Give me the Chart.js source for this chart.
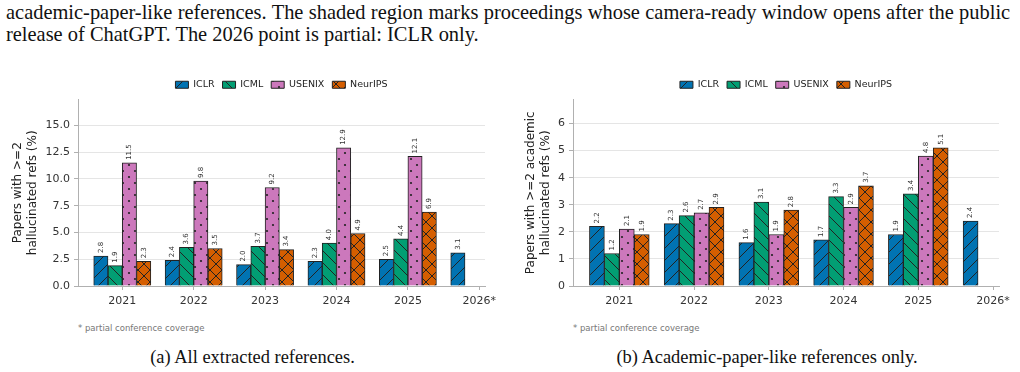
<!DOCTYPE html>
<html>
<head>
<meta charset="utf-8">
<script src="https://cdn.jsdelivr.net/npm/chart.js@4.4.0/dist/chart.umd.min.js"></script>
<style>
html, body { margin: 0; padding: 0; overflow: hidden; background: #fff; }
body { width: 1020px; height: 372px; position: relative; font-family: "DejaVu Sans", sans-serif; }
.serif { position: absolute; font-family: "Liberation Serif", serif; color: #111; white-space: nowrap; transform: scaleX(0.95); transform-origin: 0 0; }
#line1 { left: 6px; top: 1px; width: 1057px; font-size: 21.5px; line-height: 22px; text-align: justify; text-align-last: justify; }
#line2 { left: 6px; top: 23px; font-size: 21.5px; line-height: 22px; }
.cap { top: 346px; font-size: 19.4px; line-height: 22px; text-align: center; transform-origin: 50% 0; }
.foot { position: absolute; top: 323px; font-size: 8.5px; color: #777; }
.box { position: absolute; }
</style>
</head>
<body>
<div class="serif" id="line1">academic-paper-like references. The shaded region marks proceedings whose camera-ready window opens after the public</div>
<div class="serif" id="line2">release of ChatGPT. The 2026 point is partial: ICLR only.</div>

<div class="box" style="left:0px; top:72px;"><canvas id="chartAll" width="505" height="240"></canvas></div>
<div class="box" style="left:505px; top:72px;"><canvas id="chartAcad" width="515" height="240"></canvas></div>

<div class="foot" style="left:78px;">* partial conference coverage</div>
<div class="foot" style="left:573px;">* partial conference coverage</div>
<div class="serif cap" style="left:0px; width:505px;">(a) All extracted references.</div>
<div class="serif cap" style="left:510px; width:514px;">(b) Academic-paper-like references only.</div>

<script>
// categories
const years = ['2021', '2022', '2023', '2024', '2025', '2026*'];
const venues = ['ICLR', 'ICML', 'USENIX', 'NeurIPS'];

// (a) all extracted references, % of papers with >=2 hallucinated refs
const allIclr    = [2.8, 2.4, 2.0, 2.3, 2.5, 3.1];
const allIcml    = [1.9, 3.6, 3.7, 4.0, 4.4, null];
const allUsenix  = [11.5, 9.8, 9.2, 12.9, 12.1, null];
const allNeurips = [2.3, 3.5, 3.4, 4.9, 6.9, null];

// (b) academic-paper-like references only
const acadIclr    = [2.2, 2.3, 1.6, 1.7, 1.9, 2.4];
const acadIcml    = [1.2, 2.6, 3.1, 3.3, 3.4, null];
const acadUsenix  = [2.1, 2.7, 1.9, 2.9, 4.8, null];
const acadNeurips = [1.9, 2.9, 2.8, 3.7, 5.1, null];

// y tick labels
const allTicks = [0, 2.5, 5, 7.5, 10, 12.5, 15];
const acadTicks = [0, 1, 2, 3, 4, 5, 6];

const colors = ['#0173b2', '#029e73', '#cc78bc', '#d55e00'];
const hatches = ['/', '\\', '.', 'x'];
const offsets = [-0.3, -0.1, 0.1, 0.3];
const edge = '#222';
const axisGray = '#b0b0b0';

function makePattern(color, kind) {
    const s = 12;
    const c = document.createElement('canvas');
    c.width = s;
    c.height = s;
    const g = c.getContext('2d');
    g.fillStyle = color;
    g.fillRect(0, 0, s, s);
    g.strokeStyle = edge;
    g.fillStyle = edge;
    g.lineWidth = 1;
    g.beginPath();
    if (kind === '/' || kind === 'x') {
        g.moveTo(-1, s + 1); g.lineTo(s + 1, -1);
        g.moveTo(-2, 2); g.lineTo(2, -2);
        g.moveTo(s - 2, s + 2); g.lineTo(s + 2, s - 2);
    }
    if (kind === '\\' || kind === 'x') {
        g.moveTo(-1, -1); g.lineTo(s + 1, s + 1);
        g.moveTo(s - 2, -2); g.lineTo(s + 2, 2);
        g.moveTo(-2, s - 2); g.lineTo(2, s + 2);
    }
    g.stroke();
    if (kind === '.') {
        [[s / 4, s / 4], [3 * s / 4, 3 * s / 4]].forEach(p => {
            g.beginPath();
            g.arc(p[0], p[1], 1.1, 0, Math.PI * 2);
            g.fill();
        });
    }
    return g.createPattern(c, 'repeat');
}

// rotated value labels above every bar
const barLabels = {
    id: 'barLabels',
    afterDatasetsDraw(chart) {
        const ctx = chart.ctx;
        ctx.save();
        ctx.font = '7px "DejaVu Sans"';
        ctx.fillStyle = '#333';
        ctx.textAlign = 'left';
        ctx.textBaseline = 'middle';
        chart.data.datasets.forEach((ds, di) => {
            chart.getDatasetMeta(di).data.forEach((bar, j) => {
                ctx.save();
                ctx.translate(bar.x, bar.y - 3);
                ctx.rotate(-Math.PI / 2);
                ctx.fillText(ds.data[j].y.toFixed(1), 0, 0);
                ctx.restore();
            });
        });
        ctx.restore();
    }
};

// center the legend over the plot area rather than the whole canvas
const legendOverPlot = {
    id: 'legendOverPlot',
    afterLayout(chart) {
        const lg = chart.legend;
        const area = chart.chartArea;
        const w = lg.right - lg.left;
        const mid = (area.left + area.right) / 2;
        lg.left = mid - w / 2;
        lg.right = mid + w / 2;
    }
};

function makeChart(id, series, tickVals, tickFmt, title, yWidth, padRight, titlePad) {
    const maxVal = Math.max(...series.flat().filter(v => v !== null));
    const datasets = series.map((vals, k) => ({
        label: venues[k],
        data: years.map((y, i) => ({ x: i + offsets[k], y: vals[i] })).filter(p => p.y !== null),
        backgroundColor: makePattern(colors[k], hatches[k]),
        borderColor: edge,
        borderWidth: 1
    }));

    return new Chart(document.getElementById(id).getContext('2d'), {
        type: 'bar',
        data: { datasets: datasets },
        options: {
            responsive: false,
            animation: false,
            layout: { padding: { top: 0, right: padRight, left: 0, bottom: 0 } },
            datasets: { bar: { grouped: false, barPercentage: 1, categoryPercentage: 1 } },
            plugins: {
                legend: {
                    position: 'top',
                    labels: {
                        boxWidth: 13,
                        boxHeight: 7,
                        padding: 8,
                        color: '#222',
                        font: { family: 'DejaVu Sans', size: 9.5 }
                    }
                },
                tooltip: { enabled: false }
            },
            scales: {
                x: {
                    type: 'linear',
                    min: -0.62,
                    max: 5.08,
                    offset: false,
                    afterBuildTicks: s => { s.ticks = years.map((y, i) => ({ value: i })); },
                    afterFit: s => { s.height = 26; },
                    grid: { offset: false, drawOnChartArea: false, drawTicks: true, tickLength: 4, tickColor: axisGray },
                    border: { color: axisGray, width: 1 },
                    ticks: {
                        autoSkip: false,
                        maxRotation: 0,
                        padding: 5,
                        color: '#333',
                        font: { family: 'DejaVu Sans', size: 11 },
                        callback: v => years[Math.round(v)]
                    }
                },
                y: {
                    min: 0,
                    max: maxVal * 1.35,
                    afterBuildTicks: s => { s.ticks = tickVals.map(v => ({ value: v })); },
                    afterFit: s => { s.width = yWidth; },
                    grid: { color: '#e5e5e5', tickColor: axisGray, tickLength: 4 },
                    border: { color: axisGray, width: 1 },
                    ticks: {
                        padding: 4,
                        color: '#333',
                        font: { family: 'DejaVu Sans', size: 11 },
                        callback: tickFmt
                    },
                    title: {
                        display: true,
                        text: title,
                        color: '#222',
                        padding: { top: titlePad, bottom: 0 },
                        font: { family: 'DejaVu Sans', size: 12 }
                    }
                }
            }
        },
        plugins: [barLabels, legendOverPlot]
    });
}

makeChart('chartAll',
    [allIclr, allIcml, allUsenix, allNeurips],
    allTicks, v => v.toFixed(1),
    ['Papers with >=2', 'hallucinated refs (%)'], 78, 20, 11);

makeChart('chartAcad',
    [acadIclr, acadIcml, acadUsenix, acadNeurips],
    acadTicks, v => String(v),
    ['Papers with >=2 academic', 'hallucinated refs (%)'], 68, 21, 19);
</script>
</body>
</html>
